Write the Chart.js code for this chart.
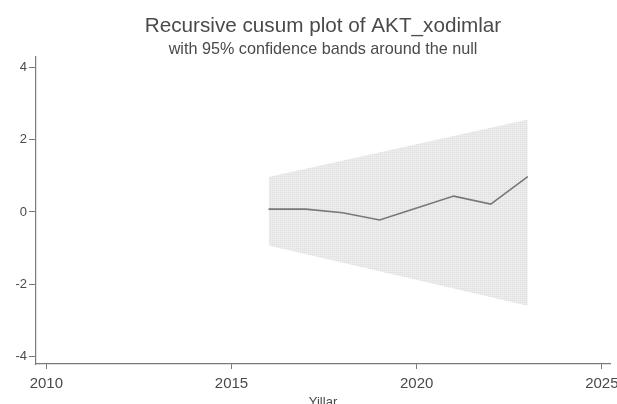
<!DOCTYPE html>
<html>
<head>
<meta charset="utf-8">
<script src="https://cdn.jsdelivr.net/npm/chart.js@4.4.1/dist/chart.umd.min.js"></script>
<style>
  html, body { margin: 0; padding: 0; background: #ffffff; }
  #wrap { width: 617px; height: 404px; position: relative; }
</style>
</head>
<body>
<div id="wrap"><canvas id="cusum" width="617" height="404"></canvas></div>
<script>
// Recursive CUSUM statistic by year
const years = [2016, 2017, 2018, 2019, 2020, 2021, 2022, 2023];
const cusumValues = [0.08, 0.08, -0.02, -0.22, 0.11, 0.44, 0.22, 0.98];

// 95% confidence band (linear in time) at the first and last year
const bandYears = [2016, 2023];
const bandUpper = [0.97, 2.56];
const bandLower = [-0.93, -2.6];

// Axis tick labels
const xTickValues = [2010, 2015, 2020, 2025];
const yTickValues = [-4, -2, 0, 2, 4];

const toPoints = (xs, ys) => xs.map((x, i) => ({ x: x, y: ys[i] }));

const FONT = '"Liberation Sans", Arial, Helvetica, sans-serif';
const TEXT = '#4a4a4a';
const AXIS = '#7a7a7a';

// Fine stippled fill for the confidence band
function bandPattern() {
  const c = document.createElement('canvas');
  c.width = 2; c.height = 2;
  const g = c.getContext('2d');
  g.fillStyle = '#ececec';
  g.fillRect(0, 0, 2, 2);
  g.fillStyle = '#dedede';
  g.fillRect(0, 0, 1, 1);
  return g.createPattern(c, 'repeat');
}

new Chart(document.getElementById('cusum'), {
  type: 'line',
  data: {
    datasets: [
      {
        label: 'upper',
        data: toPoints(bandYears, bandUpper),
        borderWidth: 0,
        pointRadius: 0,
        backgroundColor: bandPattern(),
        fill: '+1',
        order: 2
      },
      {
        label: 'lower',
        data: toPoints(bandYears, bandLower),
        borderWidth: 0,
        pointRadius: 0,
        fill: false,
        order: 2
      },
      {
        label: 'CUSUM',
        data: toPoints(years, cusumValues),
        borderColor: '#787878',
        borderWidth: 1.6,
        pointRadius: 0,
        fill: false,
        tension: 0,
        order: 1
      }
    ]
  },
  options: {
    responsive: false,
    animation: false,
    layout: { padding: { left: 0, right: 7, top: 0, bottom: 0 } },
    plugins: {
      legend: { display: false },
      tooltip: { enabled: false },
      title: {
        display: true,
        text: 'Recursive cusum plot of AKT_xodimlar',
        fullSize: false,
        color: TEXT,
        font: { family: FONT, size: 20.7, weight: 'normal', lineHeight: 1.2 },
        padding: { top: 14, bottom: 0.5 }
      },
      subtitle: {
        display: true,
        text: 'with 95% confidence bands around the null',
        fullSize: false,
        color: TEXT,
        font: { family: FONT, size: 16.2, weight: 'normal', lineHeight: 1.2 },
        padding: { top: 0, bottom: -1.7 }
      }
    },
    scales: {
      x: {
        type: 'linear',
        min: 2009.72,
        max: 2025.22,
        afterBuildTicks: (s) => { s.ticks = xTickValues.map(v => ({ value: v })); },
        afterFit: (s) => { s.height = 40; s.paddingLeft = 0; s.paddingRight = 0; },
        ticks: {
          color: TEXT,
          padding: 6,
          maxRotation: 0,
          autoSkip: false,
          font: { family: FONT, size: 15 },
          callback: (v) => String(v)
        },
        grid: {
          drawOnChartArea: false,
          drawTicks: true,
          tickLength: 5,
          color: AXIS
        },
        border: { display: true, color: AXIS, width: 1.2 },
        title: {
          display: true,
          text: 'Yillar',
          color: TEXT,
          font: { family: FONT, size: 13 },
          padding: { top: 0, bottom: -6 }
        }
      },
      y: {
        type: 'linear',
        min: -4.21,
        max: 4.29,
        afterBuildTicks: (s) => { s.ticks = yTickValues.map(v => ({ value: v })); },
        afterFit: (s) => { s.width = 36; s.paddingTop = 0; s.paddingBottom = 0; },
        ticks: {
          color: TEXT,
          padding: 2,
          font: { family: FONT, size: 13 },
          callback: (v) => String(v)
        },
        grid: {
          drawOnChartArea: false,
          drawTicks: true,
          tickLength: 7,
          color: AXIS
        },
        border: { display: true, color: AXIS, width: 1.2 }
      }
    }
  }
});
</script>
</body>
</html>
